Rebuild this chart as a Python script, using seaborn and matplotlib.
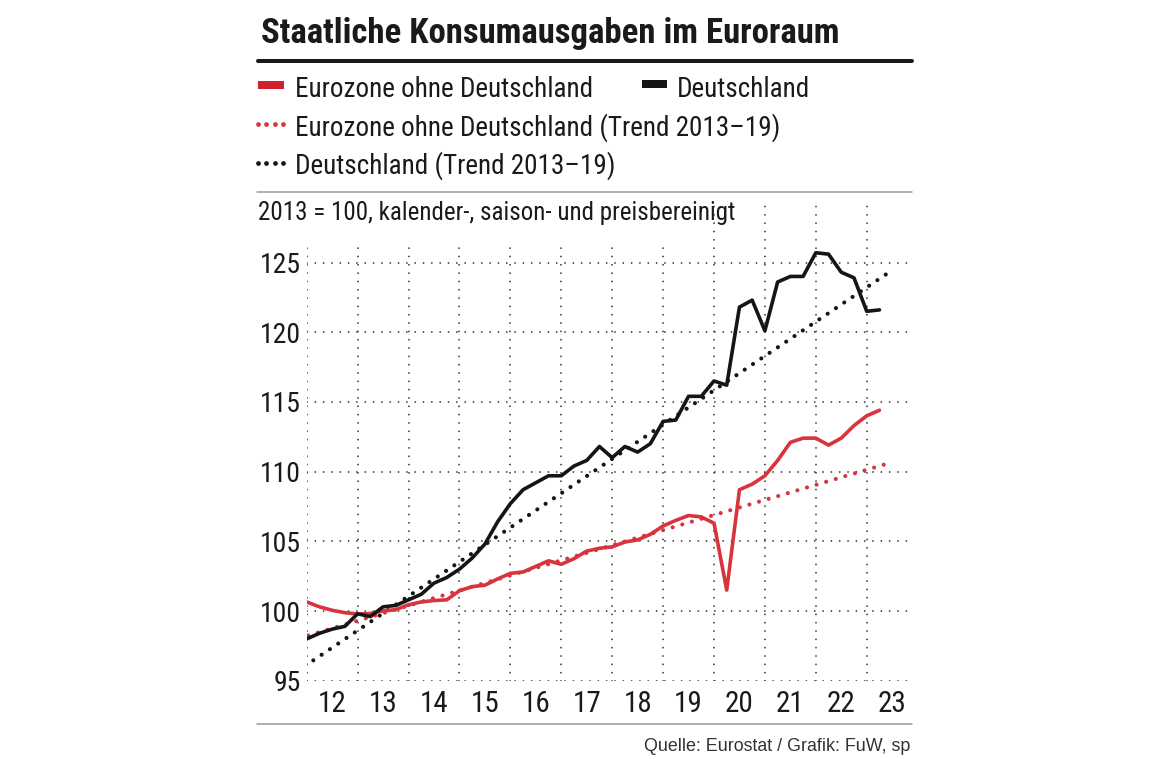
import numpy as np
import pandas as pd
import seaborn as sns
import matplotlib.pyplot as plt
from matplotlib import font_manager
from matplotlib.lines import Line2D
from matplotlib.patches import Rectangle

# Quartalsdaten 2012 Q1 bis 2023 Q2, Index 2013 = 100
jahre = list(range(2012, 2024))
quartal_x = [j + q / 4 for j in jahre for q in range(4)][:46]

eurozone_ohne_de = [100.65, 100.3, 100.05, 99.88, 99.78, 99.82, 100.0, 100.1, 100.45, 100.65,
                    100.75, 100.8, 101.45, 101.75, 101.85, 102.3, 102.7, 102.8, 103.2, 103.6,
                    103.35, 103.75, 104.3, 104.5, 104.6, 104.95, 105.1, 105.5, 106.1, 106.5,
                    106.85, 106.75, 106.3, 101.5, 108.7, 109.1, 109.7, 110.8, 112.1, 112.4,
                    112.4, 111.9, 112.4, 113.3, 114.0, 114.4]
deutschland = [98.0, 98.4, 98.7, 98.9, 99.8, 99.6, 100.3, 100.4, 100.8, 101.2,
               102.0, 102.4, 103.0, 103.8, 104.8, 106.4, 107.7, 108.7, 109.2, 109.7,
               109.7, 110.4, 110.8, 111.8, 111.0, 111.8, 111.4, 112.0, 113.6, 113.7,
               115.4, 115.4, 116.5, 116.2, 121.8, 122.3, 120.1, 123.6, 124.0, 124.0,
               125.7, 125.6, 124.3, 123.9, 121.5, 121.6]

# Trendlinien 2013-19 (Anfangs- und Endpunkt)
trend_eu_x = [2012.03, 2023.34]
trend_eu = [98.25, 110.5]
trend_de_x = [2012.13, 2023.42]
trend_de = [96.46, 124.25]

y_ticks = [95, 100, 105, 110, 115, 120, 125]
x_labels = [str(j)[2:] for j in jahre]

ROT = '#d8343e'
ROT_LEG = '#d21f2e'
SCHWARZ = '#151515'

sns.set_style('white')
avail = {f.name for f in font_manager.fontManager.ttflist}
schmal = 'DejaVu Sans'
for cand in ['Liberation Sans Narrow', 'Roboto Condensed', 'DejaVu Sans']:
    if cand in avail:
        schmal = cand
        break
plt.rcParams['font.family'] = [schmal, 'DejaVu Sans']

W, H = 1170, 759
fig = plt.figure(figsize=(W / 100, H / 100), dpi=100)


def fx(px):
    return px / W


def fy(py):
    return 1 - py / H


# Plotbereich
ax_l, ax_r, ax_t, ax_b = 306.7, 910, 203, 680.7
ax = fig.add_axes([fx(ax_l), fy(ax_b), fx(ax_r - ax_l), (ax_b - ax_t) / H])

df = pd.DataFrame({'x': quartal_x, 'eu': eurozone_ohne_de, 'de': deutschland})

sns.lineplot(x=trend_eu_x, y=trend_eu, ax=ax, color=ROT, linewidth=3.0,
             linestyle=(0, (0.001, 2.4)), dash_capstyle='round', zorder=3)
sns.lineplot(x=trend_de_x, y=trend_de, ax=ax, color=SCHWARZ, linewidth=3.0,
             linestyle=(0, (0.001, 2.4)), dash_capstyle='round', zorder=3)
sns.lineplot(data=df, x='x', y='eu', ax=ax, color=ROT, linewidth=2.6, zorder=4)
sns.lineplot(data=df, x='x', y='de', ax=ax, color=SCHWARZ, linewidth=2.6, zorder=5)

ax.set_xlim(2012, 2023.85)
ax.set_ylim(95, 95 + (ax_b - ax_t) / 13.94)
ax.set_xticks(jahre)
ax.set_xticklabels([])
ax.set_xticks([j + 0.5 for j in jahre], x_labels, minor=True)
ax.set_yticks(y_ticks)
ax.set_yticklabels([str(v) for v in y_ticks])
ax.grid(True, which='major', color='#333333', linewidth=1.3,
        linestyle=(0, (0.01, 4.6)), dash_capstyle='round')
ax.tick_params(axis='both', which='both', length=0)
ax.tick_params(axis='y', labelsize=20, pad=4.3, labelcolor='#1a1a1a')
ax.tick_params(axis='x', which='minor', labelsize=21, pad=7, labelcolor='#1a1a1a')
for s in ax.spines.values():
    s.set_visible(False)
ax.set_xlabel('')
ax.set_ylabel('')
ax.patch.set_alpha(0)

# Titel und Linien
fig.text(fx(261), fy(43.3), 'Staatliche Konsumausgaben im Euroraum', fontsize=25,
         fontweight='bold', va='baseline', ha='left', color='#1a1a1a')
fig.add_artist(Line2D([fx(258), fx(912)], [fy(61.3)] * 2, color='#1a1a1a', linewidth=2.9))
fig.add_artist(Line2D([fx(257), fx(912)], [fy(191.7)] * 2, color='#9a9a9a', linewidth=1.1))
fig.add_artist(Line2D([fx(257), fx(912)], [fy(724)] * 2, color='#9a9a9a', linewidth=1.1))

# Legende
leg_fs = 19.5
fig.add_artist(Rectangle((fx(258), fy(89)), fx(26), 8 / H, color=ROT_LEG, linewidth=0))
fig.text(fx(295), fy(96.7), 'Eurozone ohne Deutschland', fontsize=leg_fs, va='baseline',
         color='#1a1a1a')
fig.add_artist(Rectangle((fx(641.5), fy(88)), fx(25.5), 8 / H, color=SCHWARZ, linewidth=0))
fig.text(fx(676.7), fy(96.7), 'Deutschland', fontsize=leg_fs, va='baseline', color='#1a1a1a')
dots = [257.5, 266, 274.5, 283]
fig.add_artist(Line2D([fx(d) for d in dots], [fy(124)] * 4, color=ROT, linestyle='none',
                      marker='o', markersize=3.4, markeredgewidth=0))
fig.text(fx(295), fy(136), 'Eurozone ohne Deutschland (Trend 2013\u201319)', fontsize=leg_fs,
         va='baseline', color='#1a1a1a')
fig.add_artist(Line2D([fx(d) for d in dots], [fy(163.3)] * 4, color=SCHWARZ, linestyle='none',
                      marker='o', markersize=3.4, markeredgewidth=0))
fig.text(fx(295), fy(174), 'Deutschland (Trend 2013\u201319)', fontsize=leg_fs,
         va='baseline', color='#1a1a1a')

# Untertitel mit weissem Hintergrund ueber dem Gitter
fig.add_artist(Rectangle((fx(256), fy(243)), fx(450), 49 / H, color='white', linewidth=0,
                         zorder=2))
fig.text(fx(258), fy(220), '2013 = 100, kalender-, saison- und preisbereinigt', fontsize=18,
         va='baseline', color='#1a1a1a', zorder=3)

# Quelle
fig.text(fx(910), fy(750.7), 'Quelle: Eurostat / Grafik: FuW, sp', fontsize=12.9,
         family=['Liberation Sans', 'DejaVu Sans'], ha='right', va='baseline', color='#333333')

fig.savefig('out.png', dpi=100)
